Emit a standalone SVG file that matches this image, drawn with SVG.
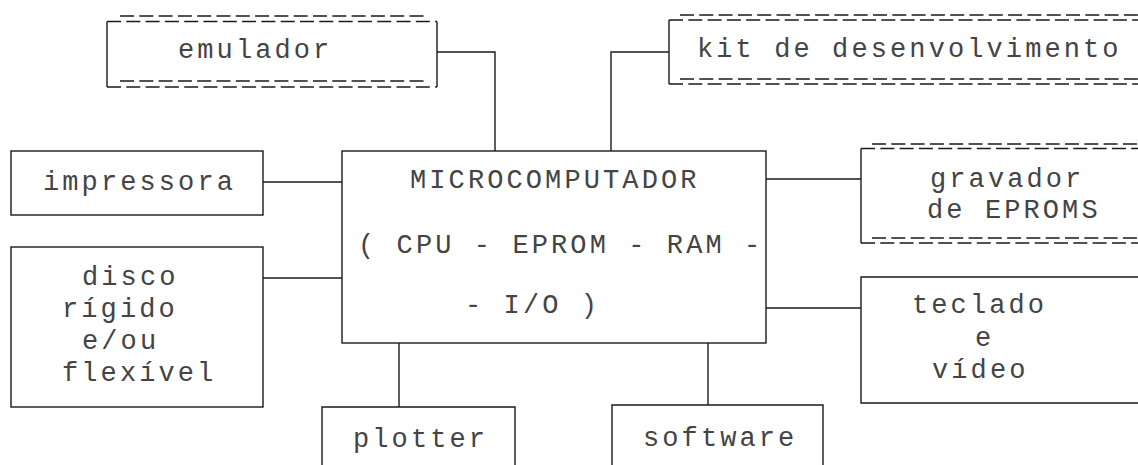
<svg xmlns="http://www.w3.org/2000/svg" width="1138" height="465" viewBox="0 0 1138 465">
<style>
  .bg { fill: #ffffff; }
  .box { fill: none; stroke: #1a1a1a; stroke-width: 1.4; }
  .edge { fill: none; stroke: #1a1a1a; stroke-width: 1.4; }
  .dash { fill: none; stroke: #1a1a1a; stroke-width: 1.3; stroke-dasharray: 14 5.3; }
  .t { font-family: "Liberation Mono", "DejaVu Sans Mono", monospace; font-size: 27px; letter-spacing: 3.1px; fill: #444444; }
</style>
<rect class="bg" x="0" y="0" width="1138" height="465"/>

<g id="connectors">
  <polyline class="edge" points="437,52 495,52 495,151"/>
  <polyline class="edge" points="669,52 611,52 611,151"/>
  <line class="edge" x1="263" y1="182" x2="342" y2="182"/>
  <line class="edge" x1="766" y1="179" x2="861" y2="179"/>
  <line class="edge" x1="263" y1="278" x2="342" y2="278"/>
  <line class="edge" x1="766" y1="308" x2="861" y2="308"/>
  <line class="edge" x1="399" y1="343" x2="399" y2="407"/>
  <line class="edge" x1="708" y1="343" x2="708" y2="405"/>
</g>

<g id="emulador">
  <line class="dash" x1="120" y1="16" x2="427" y2="16"/>
  <line class="dash" x1="107" y1="21.5" x2="437" y2="21.5"/>
  <line class="dash" x1="120" y1="81" x2="427" y2="81"/>
  <line class="dash" x1="107" y1="87" x2="437" y2="87"/>
  <line class="box" x1="107" y1="21.5" x2="107" y2="87"/>
  <line class="box" x1="437" y1="21.5" x2="437" y2="87"/>
  <text class="t" x="178" y="58">emulador</text>
</g>

<g id="kit">
  <line class="dash" x1="680" y1="15" x2="1138" y2="15"/>
  <line class="dash" x1="669" y1="20" x2="1138" y2="20"/>
  <line class="dash" x1="680" y1="79" x2="1138" y2="79"/>
  <line class="dash" x1="669" y1="84" x2="1138" y2="84"/>
  <line class="box" x1="669" y1="20" x2="669" y2="84"/>
  <text class="t" x="697" y="57">kit de desenvolvimento</text>
</g>

<g id="impressora">
  <rect class="box" x="11" y="151" width="252" height="64"/>
  <text class="t" x="43" y="190">impressora</text>
</g>

<g id="microcomputador">
  <rect class="box" x="342" y="151" width="424" height="192"/>
  <text class="t" x="410" y="188">MICROCOMPUTADOR</text>
  <text class="t" x="358" y="253">( CPU - EPROM - RAM -</text>
  <text class="t" x="465" y="313">- I/O )</text>
</g>

<g id="gravador">
  <line class="dash" x1="872" y1="144" x2="1138" y2="144"/>
  <line class="dash" x1="861" y1="148.5" x2="1138" y2="148.5"/>
  <line class="dash" x1="872" y1="238" x2="1138" y2="238"/>
  <line class="dash" x1="861" y1="243" x2="1138" y2="243"/>
  <line class="box" x1="861" y1="148.5" x2="861" y2="243"/>
  <text class="t" x="930" y="187">gravador</text>
  <text class="t" x="927" y="218">de EPROMS</text>
</g>

<g id="disco">
  <rect class="box" x="11" y="247" width="252" height="160"/>
  <text class="t" x="82" y="285">disco</text>
  <text class="t" x="62" y="317">rígido</text>
  <text class="t" x="82" y="349">e/ou</text>
  <text class="t" x="62" y="381">flexível</text>
</g>

<g id="teclado">
  <polyline class="box" points="1140,277 861,277 861,403 1140,403"/>
  <text class="t" x="912" y="313">teclado</text>
  <text class="t" x="975" y="346">e</text>
  <text class="t" x="932" y="378">vídeo</text>
</g>

<g id="plotter">
  <polyline class="box" points="322,470 322,407 515,407 515,470"/>
  <text class="t" x="353" y="447">plotter</text>
</g>

<g id="software">
  <polyline class="box" points="612,470 612,405 823,405 823,470"/>
  <text class="t" x="643" y="446">software</text>
</g>
</svg>
